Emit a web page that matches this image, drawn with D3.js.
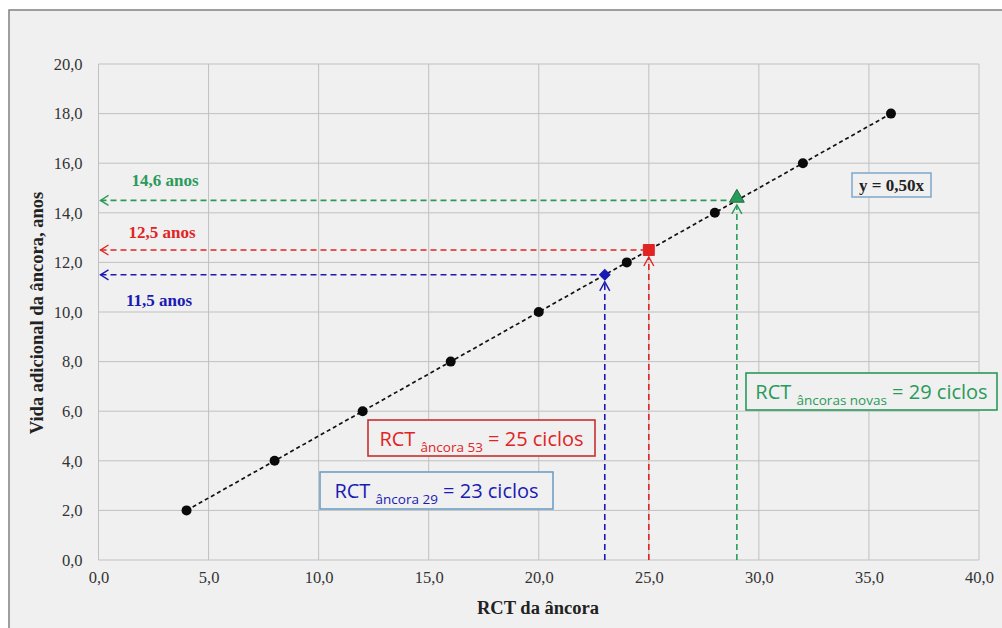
<!DOCTYPE html>
<html><head><meta charset="utf-8">
<script src="https://cdn.jsdelivr.net/npm/d3@7"></script>
<style>
html,body{margin:0;padding:0;background:#fff;}
svg{display:block;}
</style></head>
<body>
<svg id="chart" width="1002" height="628"></svg>
<script>
// ---- data ----
const rctValues = [4, 8, 12, 16, 20, 24, 28, 32, 36];
const lifeValues = [2, 4, 6, 8, 10, 12, 14, 16, 18];
const xTicks = [0, 5, 10, 15, 20, 25, 30, 35, 40];
const yTicks = [0, 2, 4, 6, 8, 10, 12, 14, 16, 18, 20];
const trendSlope = 0.5;
const trendLabel = "y = 0,50x";
const highlightNames = ["âncora 29", "âncora 53", "âncoras novas"];
const highlightX = [23, 25, 29];
const highlightY = [11.5, 12.5, 14.6];
const highlightYears = ["11,5 anos", "12,5 anos", "14,6 anos"];
const highlightCycles = ["23 ciclos", "25 ciclos", "29 ciclos"];
const xTitle = "RCT da âncora";
const yTitle = "Vida adicional da âncora, anos";

const fmt = d => d3.format(".1f")(d).replace(".", ",");

const svg = d3.select("#chart");
svg.append("rect").attr("width", 1002).attr("height", 628).attr("fill", "#ffffff");
svg.append("rect").attr("x", 9).attr("y", 10).attr("width", 1010).attr("height", 640)
  .attr("fill", "#f0f0f0").attr("stroke", "#808080").attr("stroke-width", 1.5);

const x = d3.scaleLinear().domain([0, 40]).range([98.5, 979]);
const y = d3.scaleLinear().domain([0, 20]).range([560, 64]);

// grid
const g = svg.append("g");
g.append("g").selectAll("line").data(xTicks).join("line")
  .attr("x1", d => x(d)).attr("x2", d => x(d)).attr("y1", y(0)).attr("y2", y(20))
  .attr("stroke", "#c0c0c0").attr("stroke-width", 1);
g.append("g").selectAll("line").data(yTicks).join("line")
  .attr("y1", d => y(d)).attr("y2", d => y(d)).attr("x1", x(0)).attr("x2", x(40))
  .attr("stroke", "#c0c0c0").attr("stroke-width", 1);

// axes (labels only)
const xAxis = d3.axisBottom(x).tickValues(xTicks).tickFormat(fmt).tickSize(0).tickPadding(11);
const yAxis = d3.axisLeft(y).tickValues(yTicks).tickFormat(fmt).tickSize(0).tickPadding(16);
const xg = svg.append("g").attr("transform", `translate(0,${y(0)})`).call(xAxis);
const yg = svg.append("g").attr("transform", `translate(${x(0)},0)`).call(yAxis);
[xg, yg].forEach(a => {
  a.attr("font-family", null).attr("font-size", null);
  a.select(".domain").remove();
  a.selectAll("text").attr("font-family", "Liberation Serif, Times New Roman, serif")
    .attr("font-size", 16.5).attr("fill", "#333");
});

// titles
svg.append("text").attr("x", 538).attr("y", 614).attr("text-anchor", "middle")
  .attr("font-family", "Liberation Serif, serif").attr("font-weight", "bold").attr("font-size", 18.5)
  .attr("fill", "#222").text(xTitle);
svg.append("text").attr("transform", "translate(43,313) rotate(-90)").attr("text-anchor", "middle")
  .attr("font-family", "Liberation Serif, serif").attr("font-weight", "bold").attr("font-size", 18.5)
  .attr("fill", "#222").text(yTitle);

// trend line
const xs = d3.extent(rctValues);
svg.append("line").attr("x1", x(xs[0])).attr("y1", y(xs[0] * trendSlope))
  .attr("x2", x(xs[1])).attr("y2", y(xs[1] * trendSlope))
  .attr("stroke", "#111").attr("stroke-width", 1.7).attr("stroke-dasharray", "4,3");

const colors = ["#1a1ab4", "#e02424", "#2a9a5a"];
const boxStroke = ["#6f9fc6", "#c83030", "#2a9a5a"];

// dashed guides with arrowheads
highlightX.forEach((hx, i) => {
  const hy = i === 2 ? 14.5 : highlightY[i];
  const c = colors[i];
  const gg = svg.append("g").attr("stroke", c).attr("fill", "none").attr("stroke-width", 1.6);
  gg.append("line").attr("x1", x(0) + 2).attr("x2", x(hx)).attr("y1", y(hy)).attr("y2", y(hy))
    .attr("stroke-dasharray", "6,4");
  gg.append("path").attr("d", `M${x(0) + 10},${y(hy) - 5} L${x(0) + 2},${y(hy)} L${x(0) + 10},${y(hy) + 5}`)
    .attr("stroke-width", 1.4);
  const top = y(highlightY[i]) + 7;
  gg.append("line").attr("x1", x(hx)).attr("x2", x(hx)).attr("y1", y(0)).attr("y2", top)
    .attr("stroke-dasharray", "6,4");
  gg.append("path").attr("d", `M${x(hx) - 5},${top + 9} L${x(hx)},${top} L${x(hx) + 5},${top + 9}`)
    .attr("stroke-width", 1.4);
});

// points
svg.append("g").selectAll("circle").data(rctValues).join("circle")
  .attr("cx", d => x(d)).attr("cy", (d, i) => y(lifeValues[i])).attr("r", 5).attr("fill", "#0a0a0a");

// highlight markers
const syms = [d3.symbolSquare, d3.symbolSquare, d3.symbolTriangle];
const sizes = [55, 120, 95];
highlightX.forEach((hx, i) => {
  svg.append("path").attr("d", d3.symbol().type(syms[i]).size(sizes[i])())
    .attr("transform", `translate(${x(hx)},${y(highlightY[i])})` + (i === 0 ? " rotate(45)" : ""))
    .attr("fill", colors[i]).attr("stroke", i === 2 ? "#1d6e3e" : colors[i]).attr("stroke-width", 1);
});

// years labels
const yearPos = [[159, 306], [162, 238], [165, 186]];
highlightYears.forEach((t, i) => {
  svg.append("text").attr("x", yearPos[i][0]).attr("y", yearPos[i][1]).attr("text-anchor", "middle")
    .attr("font-family", "Liberation Serif, serif").attr("font-weight", "bold").attr("font-size", 17)
    .attr("fill", colors[i]).text(t);
});

// trend label box
svg.append("rect").attr("x", 852).attr("y", 173).attr("width", 79).attr("height", 24)
  .attr("fill", "#f0f0f0").attr("stroke", "#7ea6c8").attr("stroke-width", 1.5);
svg.append("text").attr("x", 891.5).attr("y", 191).attr("text-anchor", "middle")
  .attr("font-family", "Liberation Serif, serif").attr("font-weight", "bold").attr("font-size", 17)
  .attr("fill", "#222").text(trendLabel);

// RCT boxes
const boxes = [[320, 472, 233, 37], [368, 420, 227, 36], [746, 373, 251, 37]];
highlightNames.forEach((n, i) => {
  const [bx, by, bw, bh] = boxes[i];
  svg.append("rect").attr("x", bx).attr("y", by).attr("width", bw).attr("height", bh)
    .attr("fill", "#f0f0f0").attr("stroke", boxStroke[i]).attr("stroke-width", 1.6);
  const t = svg.append("text").attr("x", bx + bw / 2).attr("y", by + 26).attr("text-anchor", "middle")
    .attr("font-family", "Open Sans, Liberation Sans, sans-serif").attr("font-size", 20).attr("fill", colors[i]);
  t.append("tspan").text("RCT ");
  t.append("tspan").attr("font-size", 13.5).attr("dy", 6).text(n);
  t.append("tspan").attr("dy", -6).text(" = " + highlightCycles[i]);
});
</script>
</body></html>
